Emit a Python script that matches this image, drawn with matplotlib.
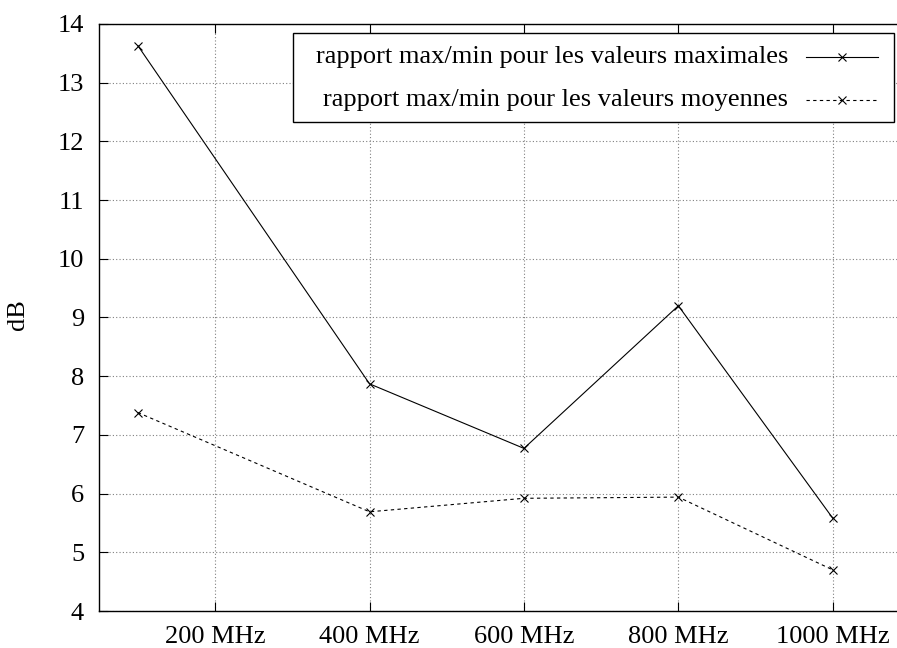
import matplotlib
matplotlib.use("Agg")
import matplotlib.pyplot as plt
from matplotlib.lines import Line2D

# data
freq_mhz = [100, 400, 600, 800, 1000]
ratio_max = [13.63, 7.87, 6.77, 9.20, 5.58]
ratio_mean = [7.38, 5.69, 5.92, 5.94, 4.70]
xtick_vals = [200, 400, 600, 800, 1000]
xtick_labels = ["200 MHz", "400 MHz", "600 MHz", "800 MHz", "1000 MHz"]
ytick_vals = list(range(4, 15))
label_max = "rapport max/min pour les valeurs maximales"
label_mean = "rapport max/min pour les valeurs moyennes"

plt.rcParams['font.family'] = ['Liberation Serif', 'DejaVu Serif']
fs = 19

W, H = 897, 648
fig = plt.figure(figsize=(W / 100, H / 100), dpi=100)
ax = fig.add_axes([99.3 / W, 37 / H, (910 - 99.3) / W, (611 - 24) / H])

ax.plot(freq_mhz, ratio_max, color='black', lw=0.8, marker='x', ms=6, mew=0.8)
ax.plot(freq_mhz, ratio_mean, color='black', lw=0.8, marker='x', ms=6, mew=0.8,
        linestyle=(0, (3, 3)))

ax.set_xlim(50, 1100)
ax.set_ylim(4, 14)
ax.set_xticks(xtick_vals)
ax.set_xticklabels(xtick_labels, fontsize=fs)
ax.set_yticks(ytick_vals)
ax.set_yticklabels([str(v) for v in ytick_vals], fontsize=fs)
ax.tick_params(direction='in', length=6.5, width=0.8, top=True, right=False)
ax.tick_params(axis='x', pad=11)
ax.tick_params(axis='y', pad=11)
ax.grid(True, color='#808080', linestyle=(0, (1, 2)), lw=0.8)
ax.spines['right'].set_visible(False)
for s in ax.spines.values():
    s.set_linewidth(1.0)

ax.set_ylabel("dB", fontsize=fs)
ax.yaxis.set_label_coords(-(99.3 - 29) / (910 - 99.3), (611 - 315) / (611 - 24))

# gnuplot-style key: text right aligned, sample on the right
fig.patches.append(plt.Rectangle((293.3 / W, 1 - 121.7 / H), (894 - 293.3) / W,
                                 (121.7 - 32.7) / H, transform=fig.transFigure,
                                 fill=True, facecolor='white', edgecolor='black',
                                 lw=1.0, zorder=5))
rows = [(57.3, label_max, '-'), (100, label_mean, (0, (3, 3)))]
for y, lab, ls in rows:
    fig.text(788 / W, 1 - y / H, lab, ha='right', va='center', fontsize=fs, zorder=6)
    fig.add_artist(Line2D([806 / W, 878 / W], [1 - y / H, 1 - y / H],
                          transform=fig.transFigure, color='black', lw=0.8,
                          linestyle=ls, zorder=6))
    fig.add_artist(Line2D([842 / W], [1 - y / H], transform=fig.transFigure,
                          color='black', marker='x', ms=6, mew=0.8, lw=0, zorder=6))

fig.savefig("out.png", dpi=100)
